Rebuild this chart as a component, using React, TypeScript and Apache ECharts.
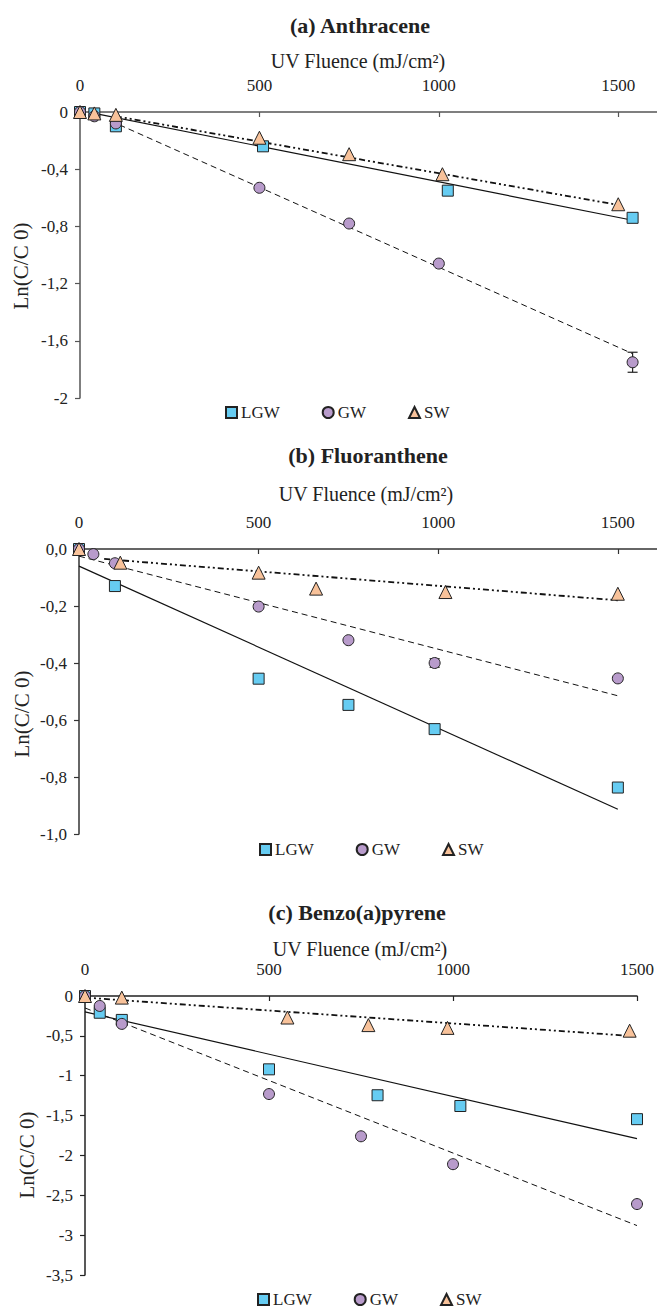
import React, { useEffect, useRef } from "react";
import * as echarts from "echarts";

// ---------- data ----------
const xTicks = [0, 500, 1000, 1500];
const seriesNames = ["LGW", "GW", "SW"];

// (a) Anthracene
const aLGW = [[0, 0], [40, -0.01], [100, -0.1], [510, -0.24], [1025, -0.55], [1540, -0.74]];
const aGW = [[0, 0], [40, -0.03], [100, -0.08], [500, -0.53], [750, -0.78], [1000, -1.06], [1540, -1.75]];
const aSW = [[0, 0], [40, -0.01], [100, -0.02], [500, -0.18], [750, -0.295], [1010, -0.435], [1500, -0.645]];
const aLGWfit = [[40, -0.01], [1540, -0.757]];
const aGWfit = [[110, -0.09], [1540, -1.69]];
const aSWfit = [[100, -0.03], [1500, -0.65]];
const aErr = [[1540, -1.82, -1.68]];

// (b) Fluoranthene
const bLGW = [[0, 0], [100, -0.13], [500, -0.455], [750, -0.547], [990, -0.632], [1500, -0.837]];
const bGW = [[0, 0], [40, -0.018], [100, -0.05], [500, -0.202], [750, -0.32], [990, -0.4], [1500, -0.454]];
const bSW = [[0, 0], [115, -0.048], [500, -0.083], [660, -0.139], [1020, -0.151], [1500, -0.157]];
const bLGWfit = [[0, -0.06], [1500, -0.913]];
const bGWfit = [[0, -0.025], [1500, -0.515]];
const bSWfit = [[70, -0.035], [1500, -0.18]];
const bErr = [[990, -0.415, -0.385]];

// (c) Benzo(a)pyrene
const cLGW = [[0, 0], [40, -0.21], [100, -0.3], [500, -0.92], [795, -1.245], [1020, -1.38], [1500, -1.545]];
const cGW = [[0, 0], [40, -0.125], [100, -0.35], [500, -1.23], [750, -1.76], [1000, -2.11], [1500, -2.61]];
const cSW = [[0, 0], [100, -0.02], [550, -0.27], [770, -0.365], [985, -0.4], [1480, -0.435]];
const cLGWfit = [[0, -0.2], [1500, -1.79]];
const cGWfit = [[0, -0.15], [1500, -2.88]];
const cSWfit = [[0, -0.02], [1480, -0.5]];

// ---------- styles ----------
const FONT = "Liberation Serif, Times New Roman, serif";
const TXT = "#222";
const COL = { LGW: "#66CCF2", GW: "#B89BCB", SW: "#F8C29A" };
const SYM = { LGW: "rect", GW: "circle", SW: "triangle" };
const SIZE = { LGW: 11, GW: 11, SW: 13 };

const fmtA = (v: number) => (v === 0 ? "0" : String(Math.round(v * 10) / 10).replace(".", ","));
const fmtB = (v: number) => (Math.round(v * 10) / 10).toFixed(1).replace(".", ",").replace("-0,0", "0,0");
const fmtC = (v: number) => String(Math.round(v * 10) / 10).replace(".", ",");
const fmtX = (v: number) => String(Math.round(v));

type Panel = {
  grid: { left: number; right: number; top: number; height: number };
  xMax: number;
  yMin: number;
  yInt: number;
  fmt: (v: number) => string;
  axisColor: string;
  pts: number[][][];
  fits: number[][][];
  err: number[][];
  legend: { left: number; top: number };
};

const panels: Panel[] = [
  {
    grid: { left: 80, right: 0, top: 112, height: 286 },
    xMax: 1608, yMin: -2, yInt: 0.4, fmt: fmtA, axisColor: "#555",
    pts: [aLGW, aGW, aSW], fits: [aLGWfit, aGWfit, aSWfit], err: aErr,
    legend: { left: 225, top: 404 },
  },
  {
    grid: { left: 79, right: 0, top: 549, height: 285 },
    xMax: 1609, yMin: -1, yInt: 0.2, fmt: fmtB, axisColor: "#333",
    pts: [bLGW, bGW, bSW], fits: [bLGWfit, bGWfit, bSWfit], err: bErr,
    legend: { left: 259, top: 841 },
  },
  {
    grid: { left: 85, right: 15, top: 996, height: 279 },
    xMax: 1500, yMin: -3.5, yInt: 0.5, fmt: fmtC, axisColor: "#222",
    pts: [cLGW, cGW, cSW], fits: [cLGWfit, cGWfit, cSWfit], err: [],
    legend: { left: 257, top: 1291 },
  },
];

const titles = [
  { text: "(a) Anthracene", x: 360, y: 25 },
  { text: "(b) Fluoranthene", x: 368, y: 455 },
  { text: "(c) Benzo(a)pyrene", x: 357, y: 912 },
];
const xNames = [
  { x: 358, y: 61 },
  { x: 366, y: 494 },
  { x: 360, y: 949 },
];
const yNames = [
  { x: 21, y: 266 },
  { x: 22, y: 714 },
  { x: 27, y: 1155 },
];

const fitStyles = [
  { type: "solid", width: 1.2 },
  { type: [6, 4], width: 1 },
  { type: [6, 3, 2, 3, 2, 3], width: 1.8 },
];

function buildOption() {
  const grid: any[] = [];
  const xAxis: any[] = [];
  const yAxis: any[] = [];
  const series: any[] = [];
  const legend: any[] = [];
  const graphic: any[] = [];

  panels.forEach((p, i) => {
    grid.push({ ...p.grid, containLabel: false });
    xAxis.push({
      type: "value",
      gridIndex: i,
      position: "top",
      min: 0,
      max: p.xMax,
      interval: 500,
      axisLine: { show: true, onZero: false, lineStyle: { color: p.axisColor, width: 1.5 } },
      axisTick: { show: true, inside: true, length: 5, customValues: xTicks, lineStyle: { color: p.axisColor, width: 1.2 } },
      axisLabel: { customValues: xTicks, margin: 18, fontFamily: FONT, fontSize: 17, color: TXT, formatter: fmtX },
      splitLine: { show: false },
    });
    yAxis.push({
      type: "value",
      gridIndex: i,
      min: p.yMin,
      max: 0,
      interval: p.yInt,
      axisLine: { show: true, onZero: false, lineStyle: { color: p.axisColor, width: 1.5 } },
      axisTick: { show: true, length: 5, lineStyle: { color: p.axisColor, width: 1.2 } },
      axisLabel: { margin: 12, fontFamily: FONT, fontSize: 17, color: TXT, formatter: p.fmt },
      splitLine: { show: false },
    });

    // trend lines
    p.fits.forEach((d, k) => {
      series.push({
        type: "line",
        name: seriesNames[k] + " fit",
        xAxisIndex: i,
        yAxisIndex: i,
        data: d,
        showSymbol: false,
        symbol: "none",
        silent: true,
        z: 1,
        lineStyle: { color: "#111", width: fitStyles[k].width, type: fitStyles[k].type as any },
      });
    });

    // error bars
    if (p.err.length) {
      series.push({
        type: "custom",
        name: "err",
        xAxisIndex: i,
        yAxisIndex: i,
        data: p.err,
        z: 2,
        encode: { x: 0, y: [1, 2] },
        renderItem: (params: any, api: any) => {
          const x = api.value(0);
          const lo = api.coord([x, api.value(1)]);
          const hi = api.coord([x, api.value(2)]);
          const w = 5;
          const st = { stroke: "#222", lineWidth: 1.2 };
          return {
            type: "group",
            children: [
              { type: "line", shape: { x1: lo[0], y1: lo[1], x2: hi[0], y2: hi[1] }, style: st },
              { type: "line", shape: { x1: lo[0] - w, y1: lo[1], x2: lo[0] + w, y2: lo[1] }, style: st },
              { type: "line", shape: { x1: hi[0] - w, y1: hi[1], x2: hi[0] + w, y2: hi[1] }, style: st },
            ],
          };
        },
      });
    }

    // points
    p.pts.forEach((d, k) => {
      const nm = seriesNames[k] as "LGW" | "GW" | "SW";
      series.push({
        type: "scatter",
        name: nm,
        xAxisIndex: i,
        yAxisIndex: i,
        data: d,
        symbol: SYM[nm],
        symbolSize: SIZE[nm],
        clip: false,
        z: 3 + k,
        itemStyle: { color: COL[nm], borderColor: "#222", borderWidth: 1, opacity: 1 },
      });
    });

    legend.push({
      data: seriesNames,
      left: p.legend.left,
      top: p.legend.top,
      orient: "horizontal",
      itemGap: 42,
      itemWidth: 11,
      itemHeight: 11,
      selectedMode: false,
      padding: 0,
      textStyle: { fontFamily: FONT, fontSize: 17, color: TXT, padding: [0, 0, 0, -1] },
    });

    graphic.push({
      type: "text",
      x: titles[i].x,
      y: titles[i].y,
      style: {
        text: titles[i].text,
        fontFamily: FONT,
        fontSize: 22,
        fontWeight: "bold",
        fill: TXT,
        align: "center",
        verticalAlign: "middle",
      },
    });
    graphic.push({
      type: "text",
      x: xNames[i].x,
      y: xNames[i].y,
      style: {
        text: "UV Fluence (mJ/cm²)",
        fontFamily: FONT,
        fontSize: 20,
        fill: TXT,
        align: "center",
        verticalAlign: "middle",
      },
    });
    graphic.push({
      type: "text",
      x: yNames[i].x,
      y: yNames[i].y,
      rotation: Math.PI / 2,
      style: {
        text: "Ln(C/C 0)",
        fontFamily: FONT,
        fontSize: 21,
        fill: TXT,
        align: "center",
        verticalAlign: "middle",
      },
    });
  });

  return {
    animation: false,
    backgroundColor: "#fff",
    textStyle: { fontFamily: FONT },
    grid,
    xAxis,
    yAxis,
    legend,
    series,
    graphic,
  };
}

export default function App() {
  const ref = useRef<HTMLDivElement>(null);
  useEffect(() => {
    if (!ref.current) return;
    const chart = echarts.init(ref.current, undefined, { renderer: "svg" });
    chart.setOption(buildOption() as any);
    return () => chart.dispose();
  }, []);
  return (
    <div
      ref={ref}
      style={{ position: "fixed", left: 0, top: 0, width: 657, height: 1311, background: "#fff" }}
    />
  );
}
